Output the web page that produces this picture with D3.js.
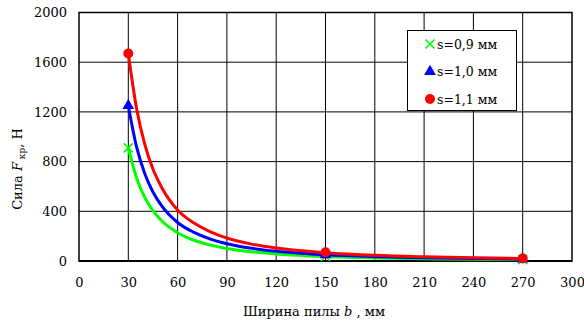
<!DOCTYPE html>
<html>
<head>
<meta charset="utf-8">
<script src="https://cdn.jsdelivr.net/npm/d3@7"></script>
<style>
  body { margin: 0; background: #fff; }
</style>
</head>
<body>
<div id="chart"></div>
<script>
// curve samples (b, mm)
const curveB = [30, 35, 40, 45, 50, 60, 70, 80, 90, 105, 120, 150, 180, 210, 240, 270];
const curveS09 = [910, 670, 512, 405, 328, 228, 167, 128, 101, 74, 57, 36, 25, 19, 14, 11];
const curveS10 = [1250, 920, 705, 555, 450, 310, 230, 176, 139, 102, 78, 50, 35, 26, 20, 15];
const curveS11 = [1670, 1230, 940, 740, 600, 410, 305, 235, 185, 136, 104, 67, 46, 34, 26, 21];

// measured points
const pointB = [30, 150, 270];
const pointS09 = [910, 36, 11];
const pointS10 = [1250, 50, 15];
const pointS11 = [1670, 70, 21];

const seriesNames = ['s=0,9 мм', 's=1,0 мм', 's=1,1 мм'];
const seriesColors = ['#00ff00', '#0000ff', '#ff0000'];
const xTicks = [0, 30, 60, 90, 120, 150, 180, 210, 240, 270, 300];
const yTicks = [0, 400, 800, 1200, 1600, 2000];

const serif = '"DejaVu Serif", serif';
const width = 584, height = 327;
const margin = { top: 12.5, right: 12, bottom: 66, left: 79 };

const svg = d3.select('#chart').append('svg')
  .attr('width', width)
  .attr('height', height)
  .style('font-family', serif);

const x = d3.scaleLinear().domain([0, 300]).range([margin.left, width - margin.right]);
const y = d3.scaleLinear().domain([0, 2000]).range([height - margin.bottom, margin.top]);

// grid
svg.append('g')
  .selectAll('line')
  .data(xTicks.slice(1, -1))
  .join('line')
  .attr('x1', d => x(d)).attr('x2', d => x(d))
  .attr('y1', y(0)).attr('y2', y(2000))
  .attr('stroke', '#000').attr('stroke-width', 1);
svg.append('g')
  .selectAll('line')
  .data(yTicks.slice(1, -1))
  .join('line')
  .attr('x1', x(0)).attr('x2', x(300))
  .attr('y1', d => y(d)).attr('y2', d => y(d))
  .attr('stroke', '#000').attr('stroke-width', 1);

// plot frame
svg.append('rect')
  .attr('x', x(0)).attr('y', y(2000))
  .attr('width', x(300) - x(0)).attr('height', y(0) - y(2000))
  .attr('fill', 'none').attr('stroke', '#000').attr('stroke-width', 1.5);
svg.append('line')
  .attr('x1', x(0)).attr('x2', x(300))
  .attr('y1', y(0)).attr('y2', y(0))
  .attr('stroke', '#000').attr('stroke-width', 2);

// axes (labels only)
const xAxis = svg.append('g')
  .attr('transform', `translate(0, ${y(0)})`)
  .call(d3.axisBottom(x).tickValues(xTicks).tickSize(0).tickPadding(17));
const yAxis = svg.append('g')
  .attr('transform', `translate(${x(0)}, 0)`)
  .call(d3.axisLeft(y).tickValues(yTicks).tickSize(0).tickPadding(12).tickFormat(d3.format('d')));
[xAxis, yAxis].forEach(a => {
  a.attr('font-family', null).attr('font-size', 13);
  a.select('.domain').remove();
  a.selectAll('text').attr('fill', '#000').style('font-family', serif);
});

// curves
const curves = [curveS09, curveS10, curveS11];
const points = [pointS09, pointS10, pointS11];
const line = d3.line()
  .x(d => x(d[0]))
  .y(d => y(d[1]))
  .curve(d3.curveMonotoneX);

curves.forEach((vals, i) => {
  svg.append('path')
    .datum(curveB.map((b, k) => [b, vals[k]]))
    .attr('d', line)
    .attr('fill', 'none')
    .attr('stroke', seriesColors[i])
    .attr('stroke-width', 3);
});

// markers
function drawMarker(g, i, cx, cy) {
  if (i === 0) {
    const s = 4.5;
    g.append('path')
      .attr('d', `M${cx - s},${cy - s}L${cx + s},${cy + s}M${cx - s},${cy + s}L${cx + s},${cy - s}`)
      .attr('stroke', seriesColors[i]).attr('stroke-width', 1.6).attr('fill', 'none');
  } else if (i === 1) {
    g.append('path')
      .attr('d', d3.symbol().type(d3.symbolTriangle).size(60)())
      .attr('transform', `translate(${cx}, ${cy})`)
      .attr('fill', seriesColors[i]);
  } else {
    g.append('circle')
      .attr('cx', cx).attr('cy', cy).attr('r', 5)
      .attr('fill', seriesColors[i]);
  }
}

const markers = svg.append('g');
points.forEach((vals, i) => {
  pointB.forEach((b, k) => drawMarker(markers, i, x(b), y(vals[k])));
});

// legend
const legend = svg.append('g');
legend.append('rect')
  .attr('x', 407.5).attr('y', 30.5)
  .attr('width', 109).attr('height', 80)
  .attr('fill', '#fff').attr('stroke', '#000').attr('stroke-width', 1);
seriesNames.forEach((name, i) => {
  const ly = 44 + i * 27.5;
  drawMarker(legend, i, 430, ly);
  legend.append('text')
    .attr('x', 437).attr('y', ly + 4.5)
    .attr('font-size', 12.5)
    .style('font-family', serif)
    .text(name);
});

// axis titles
svg.append('text')
  .attr('x', 314).attr('y', 316)
  .attr('text-anchor', 'middle')
  .attr('font-size', 13)
  .style('font-family', serif)
  .html('Ширина пилы <tspan font-style="italic">b</tspan> , мм');

svg.append('text')
  .attr('transform', 'translate(22, 169) rotate(-90)')
  .attr('text-anchor', 'middle')
  .attr('font-size', 13)
  .style('font-family', serif)
  .html('Сила <tspan font-style="italic">F</tspan><tspan font-size="9" dy="3"> кр</tspan><tspan dy="-3">, Н</tspan>');
</script>
</body>
</html>
